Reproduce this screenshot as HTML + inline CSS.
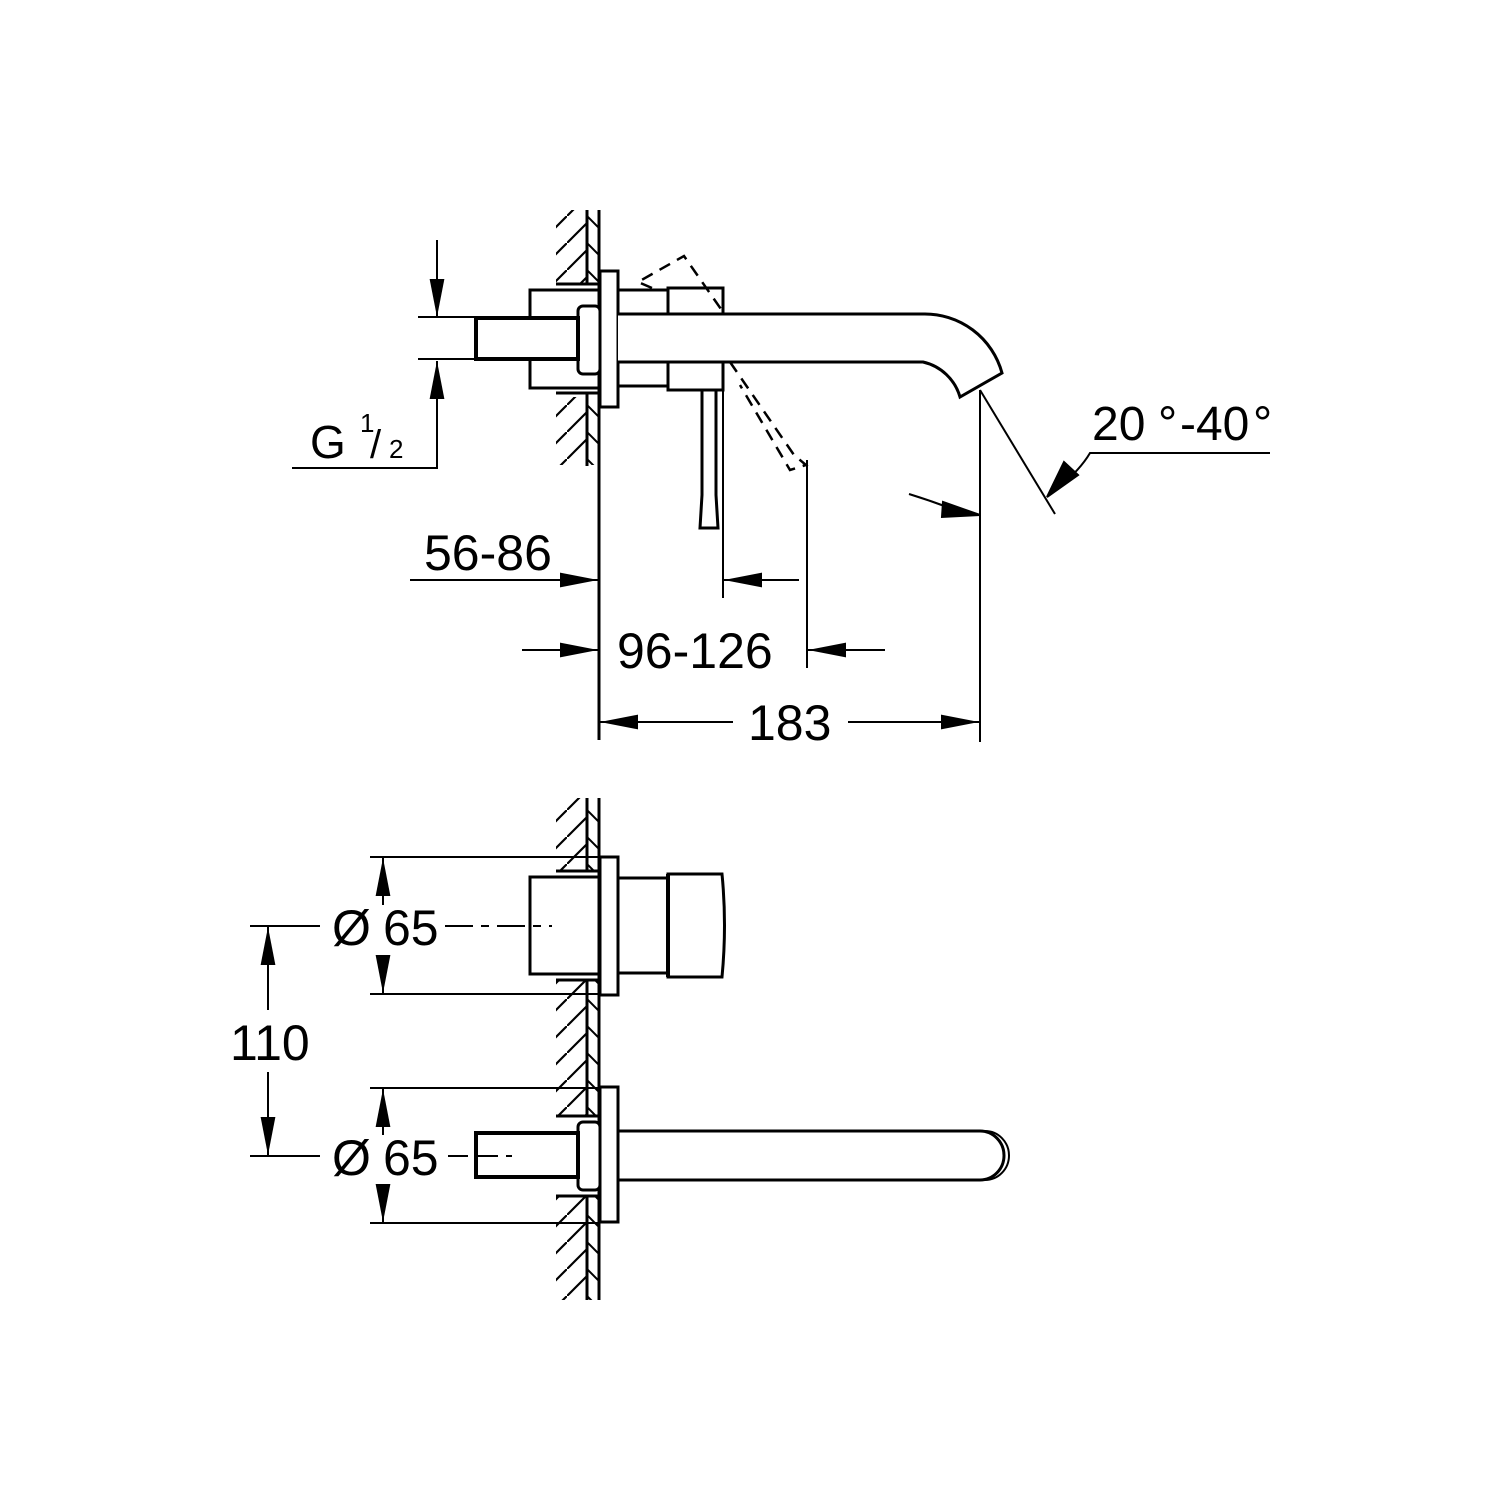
<!DOCTYPE html>
<html><head><meta charset="utf-8"><style>html,body{margin:0;padding:0;background:#fff}svg{display:block}</style></head>
<body>
<svg width="1500" height="1500" viewBox="0 0 1500 1500" xmlns="http://www.w3.org/2000/svg">
<defs>
<pattern id="h" patternUnits="userSpaceOnUse" width="27" height="27">
<line x1="-2" y1="29" x2="29" y2="-2" stroke="#000" stroke-width="2.2"/>
</pattern>
<pattern id="t" patternUnits="userSpaceOnUse" width="12" height="27" x="587">
<line x1="0" y1="0" x2="12" y2="12" stroke="#000" stroke-width="2"/>
</pattern>
<marker id="a" viewBox="0 0 36 14" refX="36" refY="7" markerWidth="38" markerHeight="15" markerUnits="userSpaceOnUse" orient="auto">
<path d="M0,0 L36,7 L0,14 Z" fill="#000"/>
</marker>
</defs>
<g fill="none" stroke="#000" stroke-width="2">
<rect x="556" y="210" width="31" height="74" fill="url(#h)" stroke="none"/>
<rect x="556" y="397" width="31" height="68" fill="url(#h)" stroke="none"/>
<rect x="587" y="210" width="12" height="74" fill="url(#t)" stroke="none"/>
<rect x="587" y="397" width="12" height="68" fill="url(#t)" stroke="none"/>
<line x1="587" y1="210" x2="587" y2="284" stroke-width="3"/>
<line x1="587" y1="393" x2="587" y2="466" stroke-width="3"/>
<line x1="599" y1="210" x2="599" y2="740" stroke-width="3"/>
<line x1="556" y1="284" x2="600" y2="284" stroke-width="3"/>
<line x1="556" y1="393" x2="600" y2="393" stroke-width="3"/>
<rect x="600" y="271" width="18" height="136" stroke-width="3"/>
<rect x="530" y="290" width="70" height="98" stroke-width="3"/>
<rect x="578" y="306" width="22" height="68" rx="5" stroke-width="3" fill="#fff"/>
<rect x="476" y="318" width="102" height="41" stroke-width="4" fill="#fff"/>
<line x1="618" y1="290" x2="668" y2="290" stroke-width="3"/>
<line x1="618" y1="386" x2="668" y2="386" stroke-width="3"/>
<rect x="668" y="288" width="55" height="102" stroke-width="3"/>
<path d="M618,314 L923,314 A80,80 0 0 1 1002,373 L960,397 A50,50 0 0 0 923,362 L618,362" stroke-width="3" fill="#fff"/>
<path d="M702,390 L702,495 L700,528 L718,528 L716,495 L716,390" stroke-width="3"/>
<g stroke-dasharray="12,8" stroke-width="2.5">
<path d="M652,288 L638,282 L684,256 L723,312"/>
<path d="M730,362 L794,455 L806,465 L790,470 L740,385"/>
</g>
<line x1="723" y1="390" x2="723" y2="598"/>
<line x1="807" y1="460" x2="807" y2="668"/>
<line x1="980" y1="390" x2="980" y2="742"/>
<line x1="980" y1="390" x2="1055" y2="514"/>
<path d="M1270,453 L1090,453 Q1080,470 1058,488"/>
<path d="M1078,475 L1047,497 L1064,462 Z" fill="#000"/>
<path d="M909,494 Q935,502 960,512"/>
<path d="M943,502 L980,515 L942,517 Z" fill="#000"/>
<line x1="418" y1="317" x2="476" y2="317"/>
<line x1="418" y1="359" x2="476" y2="359"/>
<line x1="437" y1="240" x2="437" y2="317" marker-end="url(#a)"/>
<path d="M292,468 L437,468 L437,361" marker-end="url(#a)"/>
<line x1="410" y1="580" x2="598" y2="580" marker-end="url(#a)"/>
<line x1="799" y1="580" x2="724" y2="580" marker-end="url(#a)"/>
<line x1="522" y1="650" x2="598" y2="650" marker-end="url(#a)"/>
<line x1="885" y1="650" x2="808" y2="650" marker-end="url(#a)"/>
<line x1="733" y1="722" x2="600" y2="722" marker-end="url(#a)"/>
<line x1="848" y1="722" x2="979" y2="722" marker-end="url(#a)"/>

<rect x="556" y="798" width="31" height="73" fill="url(#h)" stroke="none"/>
<rect x="556" y="980" width="31" height="136" fill="url(#h)" stroke="none"/>
<rect x="556" y="1196" width="31" height="104" fill="url(#h)" stroke="none"/>
<rect x="587" y="798" width="12" height="73" fill="url(#t)" stroke="none"/>
<rect x="587" y="980" width="12" height="136" fill="url(#t)" stroke="none"/>
<rect x="587" y="1196" width="12" height="104" fill="url(#t)" stroke="none"/>
<line x1="587" y1="798" x2="587" y2="871" stroke-width="3"/>
<line x1="587" y1="980" x2="587" y2="1116" stroke-width="3"/>
<line x1="587" y1="1196" x2="587" y2="1300" stroke-width="3"/>
<line x1="599" y1="798" x2="599" y2="1300" stroke-width="3"/>
<line x1="556" y1="871" x2="600" y2="871" stroke-width="3"/>
<line x1="556" y1="980" x2="600" y2="980" stroke-width="3"/>
<line x1="556" y1="1116" x2="600" y2="1116" stroke-width="3"/>
<line x1="556" y1="1196" x2="600" y2="1196" stroke-width="3"/>
<rect x="600" y="857" width="18" height="138" stroke-width="3" fill="#fff"/>
<rect x="530" y="877" width="70" height="97" stroke-width="3"/>
<line x1="618" y1="878" x2="668" y2="878" stroke-width="3"/>
<line x1="618" y1="973" x2="668" y2="973" stroke-width="3"/>
<path d="M668,874 L722,874 Q727,925 722,977 L668,977 Z" stroke-width="3"/>
<line x1="668" y1="874" x2="668" y2="977" stroke-width="4"/>
<rect x="600" y="1087" width="18" height="135" stroke-width="3" fill="#fff"/>
<rect x="578" y="1122" width="22" height="68" rx="5" stroke-width="3" fill="#fff"/>
<rect x="476" y="1133" width="102" height="44" stroke-width="4" fill="#fff"/>
<path d="M618,1131 L980,1131 A24,24.5 0 0 1 980,1180 L618,1180" stroke-width="3"/>
<path d="M985,1131 A24,24.5 0 0 1 985,1180" stroke-width="2"/>
<line x1="370" y1="857" x2="600" y2="857"/>
<line x1="370" y1="994" x2="600" y2="994"/>
<line x1="383" y1="905" x2="383" y2="858" marker-end="url(#a)"/>
<line x1="383" y1="955" x2="383" y2="993" marker-end="url(#a)"/>
<line x1="370" y1="1088" x2="600" y2="1088"/>
<line x1="370" y1="1223" x2="600" y2="1223"/>
<line x1="383" y1="1135" x2="383" y2="1089" marker-end="url(#a)"/>
<line x1="383" y1="1185" x2="383" y2="1222" marker-end="url(#a)"/>
<line x1="250" y1="926" x2="320" y2="926"/>
<line x1="250" y1="1156" x2="320" y2="1156"/>
<line x1="268" y1="1010" x2="268" y2="927" marker-end="url(#a)"/>
<line x1="268" y1="1072" x2="268" y2="1155" marker-end="url(#a)"/>
<line x1="445" y1="926" x2="552" y2="926" stroke-dasharray="28,8,8,8"/>
<line x1="448" y1="1156" x2="512" y2="1156" stroke-dasharray="20,8,22,8"/>
</g>
<g font-family="'Liberation Sans', sans-serif" font-size="50" fill="#000">
<text x="424" y="570">56-86</text>
<text x="617" y="668">96-126</text>
<text x="748" y="740">183</text>
<text y="440" font-size="48"><tspan x="1092">20</tspan><tspan x="1158">°</tspan><tspan x="1180">-40</tspan><tspan x="1253">°</tspan></text>
<text x="310" y="458" font-size="46">G</text>
<text x="360" y="432" font-size="26">1</text>
<text x="370" y="458" font-size="40">/</text>
<text x="389" y="458" font-size="26">2</text>
<text y="945"><tspan x="332">Ø</tspan><tspan x="383">65</tspan></text>
<text y="1175"><tspan x="332">Ø</tspan><tspan x="383">65</tspan></text>
<text x="230" y="1060">110</text>
</g>
</svg>
</body></html>
